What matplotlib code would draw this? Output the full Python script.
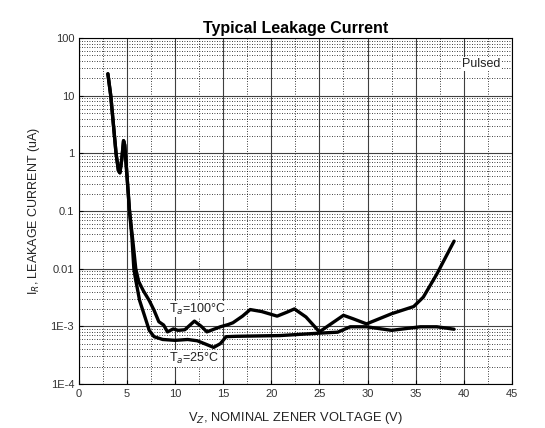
import matplotlib
matplotlib.use("Agg")
import matplotlib.pyplot as plt
from matplotlib.ticker import FixedLocator, LogLocator, NullFormatter, MultipleLocator

plt.rcParams["font.family"] = ["Liberation Sans", "DejaVu Sans"]

# Ta = 100 C curve (V, uA)
v_100 = [3.0, 3.3, 3.85, 4.1, 4.25, 4.45, 4.63, 4.75, 4.95, 5.25, 5.6, 5.9, 6.2, 6.7,
         7.3, 7.8, 8.3, 8.8, 9.2, 9.8, 10.3, 11.0, 12.0, 12.7, 13.3, 14.7, 15.5, 16.0,
         17.0, 17.8, 19.0, 20.6, 21.6, 22.4, 23.6, 25.0, 26.2, 27.5, 28.5, 29.9, 32.5,
         34.8, 35.8, 37.2, 39.0]
i_100 = [24, 10, 1.0, 0.5, 0.46, 0.8, 1.66, 1.4, 0.5, 0.1, 0.03, 0.01, 0.006, 0.0041,
         0.0028, 0.0019, 1.2e-3, 1.05e-3, 8e-4, 9e-4, 8.5e-4, 8.7e-4, 1.23e-3, 1.0e-3,
         8e-4, 9.8e-4, 1.07e-3, 1.15e-3, 1.5e-3, 1.95e-3, 1.8e-3, 1.5e-3, 1.75e-3,
         2.0e-3, 1.45e-3, 8e-4, 1.1e-3, 1.55e-3, 1.35e-3, 1.1e-3, 1.65e-3, 2.2e-3,
         3.2e-3, 8e-3, 0.03]

# Ta = 25 C curve
v_25 = [3.0, 3.3, 3.85, 4.1, 4.25, 4.45, 4.63, 4.75, 4.95, 5.25, 5.5, 5.7, 5.85, 6.3,
        6.8, 7.3, 7.8, 8.7, 10.0, 11.3, 12.3, 13.3, 14.0, 14.7, 15.3, 16.3, 20.9, 25.0,
        26.9, 28.2, 29.9, 32.5, 35.5, 37.2, 39.0]
i_25 = [24, 10, 1.0, 0.5, 0.46, 0.8, 1.66, 1.4, 0.5, 0.1, 0.035, 0.01, 0.007, 0.0028,
        0.00155, 8.5e-4, 6.6e-4, 5.9e-4, 5.7e-4, 5.9e-4, 5.6e-4, 4.8e-4, 4.3e-4, 5.0e-4,
        6.6e-4, 6.7e-4, 6.9e-4, 7.6e-4, 7.9e-4, 9.8e-4, 9.8e-4, 8.5e-4, 9.8e-4, 9.8e-4,
        8.9e-4]

y_ticks = [1e-4, 1e-3, 0.01, 0.1, 1, 10, 100]
y_labels = ["1E-4", "1E-3", "0.01", "0.1", "1", "10", "100"]
x_ticks = [0, 5, 10, 15, 20, 25, 30, 35, 40, 45]

fig = plt.figure(figsize=(5.45, 4.28), dpi=100)
ax = fig.add_axes([0.145, 0.103, 0.794, 0.808])

ax.set_yscale("log")
ax.set_xlim(0, 45)
ax.set_ylim(1e-4, 100)

ax.yaxis.set_major_locator(FixedLocator(y_ticks))
ax.set_yticklabels(y_labels)
ax.yaxis.set_minor_locator(LogLocator(base=10, subs=range(2, 10), numticks=20))
ax.yaxis.set_minor_formatter(NullFormatter())
ax.xaxis.set_major_locator(FixedLocator(x_ticks))
ax.xaxis.set_minor_locator(MultipleLocator(2.5))

ax.grid(which="major", color="#404040", linewidth=0.8)
ax.grid(which="minor", color="black", linewidth=0.6, linestyle=(0, (1, 2)))
ax.set_axisbelow(True)

ax.tick_params(which="both", direction="in", labelsize=8, labelcolor="#333333", length=3)
ax.tick_params(which="minor", length=0)

ax.plot(v_100, i_100, color="black", linewidth=2.4, solid_joinstyle="round", solid_capstyle="round")
ax.plot(v_25, i_25, color="black", linewidth=2.4, solid_joinstyle="round", solid_capstyle="round")

box = dict(facecolor="white", edgecolor="none", pad=0.5)
ax.text(9.4, 10 ** -2.7, r"T$_a$=100°C", fontsize=9, va="center", ha="left", color="#222222", bbox=box)
ax.text(9.4, 10 ** -3.56, r"T$_a$=25°C", fontsize=9, va="center", ha="left", color="#222222", bbox=box)
ax.text(43.8, 10 ** 1.55, "Pulsed", fontsize=9, va="center", ha="right", color="#222222", bbox=box)

ax.set_title("Typical Leakage Current", fontsize=11.5, fontweight="bold", pad=4)
ax.set_xlabel(r"V$_Z$, NOMINAL ZENER VOLTAGE (V)", fontsize=9.3, color="#222222", labelpad=8)
ax.set_ylabel(r"I$_R$, LEAKAGE CURRENT (uA)", fontsize=9, color="#222222", labelpad=6)

for s in ax.spines.values():
    s.set_linewidth(0.8)

fig.savefig("out.png", dpi=100)
